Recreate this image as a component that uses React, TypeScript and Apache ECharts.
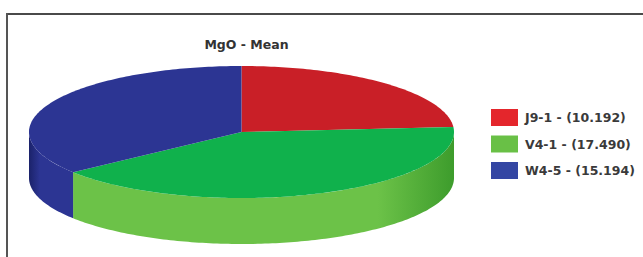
import React, { useEffect, useRef } from "react";
import * as echarts from "echarts";

const categories = ["J9-1", "V4-1", "W4-5"];
const values = [10.192, 17.49, 15.194];
const titleText = "MgO - Mean";

const topColors = ["#c91f27", "#10b14c", "#2c3593"];
const sideColors = [
  ["#b01c22", "#c91f27"],
  ["#6cc248", "#3d9c2c"],
  ["#1b226a", "#2c3593"],
];
const legendColors = ["#e4262c", "#69c046", "#3446a3"];

const CX = 241.5;
const CY = 132;
const RX = 212.5;
const RY = 66;
const DEPTH = 46;

function rim(t: number, dy = 0): number[] {
  const r = (t * Math.PI) / 180;
  return [CX + RX * Math.sin(r), CY - RY * Math.cos(r) + dy];
}

function arcPoints(a: number, b: number, dy = 0): number[][] {
  const pts: number[][] = [];
  const n = Math.max(2, Math.ceil(Math.abs(b - a)));
  for (let k = 0; k <= n; k++) pts.push(rim(a + ((b - a) * k) / n, dy));
  return pts;
}

export default function App() {
  const ref = useRef<HTMLDivElement>(null);
  useEffect(() => {
    if (!ref.current) return;
    document.body.style.margin = "0";
    const chart = echarts.init(ref.current, null, { renderer: "svg" });
    const total = values.reduce((s, v) => s + v, 0);
    const series = categories.map((name, i) => ({
      type: "custom",
      name,
      coordinateSystem: "none",
      silent: true,
      itemStyle: { color: topColors[i] },
      data: [[values[i]]],
      renderItem: (_params: any, api: any) => {
        const before = values.slice(0, i).reduce((s, v) => s + v, 0);
        const start = (before / total) * 360;
        const end = start + (api.value(0) / total) * 360;
        const children: any[] = [];
        const a = Math.max(start, 90);
        const b = Math.min(end, 270);
        if (b > a) {
          const top = arcPoints(a, b);
          const bottom = arcPoints(b, a, DEPTH);
          const xs = top.map((p) => p[0]);
          const x0 = Math.min(...xs);
          const x1 = Math.max(...xs);
          children.push({
            type: "polygon",
            shape: { points: top.concat(bottom) },
            style: {
              fill: new echarts.graphic.LinearGradient(
                x0, 0, x1, 0,
                [
                  { offset: 0, color: sideColors[i][0] },
                  { offset: i === 1 ? 0.8 : 0.25, color: sideColors[i][i === 1 ? 0 : 1] },
                  { offset: 1, color: sideColors[i][1] },
                ],
                true
              ),
            },
          });
        }
        children.push({
          type: "polygon",
          shape: { points: [[CX, CY]].concat(arcPoints(start, end)) },
          style: { fill: topColors[i] },
        });
        return { type: "group", children };
      },
    }));
    chart.setOption({
      animation: false,
      backgroundColor: "#ffffff",
      title: {
        text: titleText,
        left: CX,
        top: 33,
        textAlign: "center",
        textStyle: {
          fontFamily: "DejaVu Sans",
          fontWeight: "bold",
          fontSize: 12.5,
          color: "#333333",
        },
      },
      legend: {
        orient: "vertical",
        left: 486,
        top: 104,
        itemWidth: 27,
        itemHeight: 17,
        itemGap: 9.5,
        icon: "rect",
        selectedMode: false,
        data: categories.map((name, i) => ({
          name,
          itemStyle: { color: legendColors[i] },
        })),
        formatter: (name: string) => {
          const idx = categories.indexOf(name);
          return `${name} - (${values[idx].toFixed(3)})`;
        },
        textStyle: {
          fontFamily: "DejaVu Sans",
          fontWeight: "bold",
          fontSize: 12.5,
          color: "#3a3a3a",
          padding: [0, 0, 0, 2],
        },
      },
      graphic: [
        {
          type: "line",
          shape: { x1: 6, y1: 14, x2: 643, y2: 14 },
          style: { stroke: "#4a4a4a", lineWidth: 2 },
        },
        {
          type: "line",
          shape: { x1: 7, y1: 13, x2: 7, y2: 257 },
          style: { stroke: "#555555", lineWidth: 2 },
        },
      ],
      series,
    } as any);
    return () => chart.dispose();
  }, []);
  return (
    <div
      ref={ref}
      style={{ position: "absolute", left: 0, top: 0, width: 643, height: 257 }}
    />
  );
}
